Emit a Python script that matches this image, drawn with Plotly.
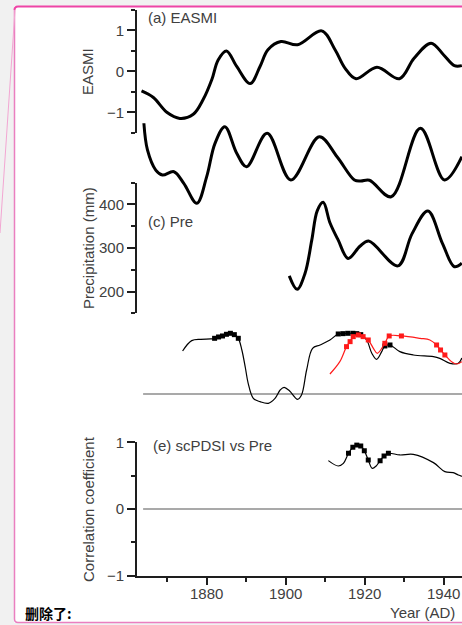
import plotly.graph_objects as go

W, H = 462, 625

# ---------------- data ----------------
# (a) EASMI
a_years = [1863.5, 1866.5, 1869.9, 1873.2, 1876.6, 1879.1, 1881.3, 1882.9, 1885.0, 1887.6,
           1891.0, 1893.5, 1895.5, 1898.8, 1903.0, 1909.1, 1912.5, 1915.0, 1917.8, 1923.1,
           1928.8, 1932.5, 1936.8, 1940.0, 1942.7, 1944.6]
a_vals = [-0.48, -0.64, -1.0, -1.15, -1.05, -0.69, -0.2, 0.28, 0.5, 0.12,
          -0.3, 0.12, 0.53, 0.73, 0.65, 0.99, 0.53, 0.08, -0.18, 0.1,
          -0.18, 0.32, 0.69, 0.4, 0.14, 0.14]

# (b) second index (axis not visible in crop)
b_years = [1864.1, 1865.0, 1867.1, 1868.8, 1871.7, 1874.2, 1877.5, 1880.0, 1882.1, 1884.6,
           1887.6, 1890.1, 1895.3, 1901.3, 1908.5, 1913.0, 1917.4, 1919.0, 1921.2, 1926.7,
           1934.1, 1940.2, 1944.6]
b_vals = [2.65, 0.87, -0.47, -0.8, -0.58, -1.36, -2.69, -0.91, 1.31, 2.42,
          0.65, -0.25, 1.98, -1.13, 1.75, 0.42, -1.13, -1.2, -1.15, -2.25,
          2.31, -1.13, 0.42]

# (c) precipitation (mm)
c_years = [1900.9, 1902.9, 1904.9, 1906.6, 1908.0, 1909.5, 1911.2, 1913.3, 1915.8, 1918.8,
           1921.0, 1928.4, 1932.0, 1936.0, 1939.7, 1942.7, 1944.6]
c_vals = [236, 205, 242, 318, 386, 405, 358, 318, 276, 304,
          316, 259, 333, 385, 310, 257, 265]

# (d) running correlations (black and red), sig = significant points (squares)
d_black_years = [1873.9, 1876.2, 1878.5, 1881.0, 1882.0, 1883.0, 1884.0, 1885.0, 1886.0, 1887.0,
                 1888.0, 1888.9, 1889.8, 1890.5, 1891.8, 1893.5, 1895.6, 1897.3, 1898.6, 1899.6,
                 1901.0, 1903.0, 1904.0, 1905.3, 1906.8, 1908.7, 1911.2, 1913.3, 1914.5, 1915.7,
                 1917.0, 1918.0, 1919.0, 1920.5, 1921.8, 1923.0, 1924.3, 1925.1, 1926.4, 1928.9,
                 1932.3, 1937.4, 1939.0, 1941.6, 1943.7, 1944.6]
d_black_vals = [0.645, 0.80, 0.82, 0.825, 0.835, 0.855, 0.87, 0.895, 0.91, 0.89,
                0.835, 0.66, 0.39, 0.16, -0.065, -0.115, -0.14, -0.065, 0.06, 0.10,
                0.045, -0.08, -0.015, 0.36, 0.685, 0.735, 0.81, 0.90, 0.905, 0.91,
                0.91, 0.905, 0.89, 0.81, 0.61, 0.52, 0.635, 0.72, 0.735, 0.635,
                0.585, 0.56, 0.535, 0.46, 0.46, 0.54]
d_black_sig = [0, 0, 0, 0, 1, 1, 1, 1, 1, 1,
               1, 0, 0, 0, 0, 0, 0, 0, 0, 0,
               0, 0, 0, 0, 0, 0, 0, 1, 1, 1,
               1, 1, 1, 0, 0, 0, 0, 1, 1, 0,
               0, 0, 0, 0, 0, 0]

d_red_years = [1911.2, 1913.7, 1915.4, 1916.3, 1917.1, 1918.4, 1919.6, 1920.9, 1922.2, 1923.2,
               1925.1, 1926.2, 1929.3, 1934.0, 1936.5, 1938.2, 1939.2, 1940.3, 1942.0, 1943.3,
               1944.6]
d_red_vals = [0.30, 0.485, 0.71, 0.785, 0.86, 0.885, 0.86, 0.81, 0.685, 0.61,
              0.76, 0.87, 0.87, 0.835, 0.81, 0.735, 0.66, 0.585, 0.485, 0.45,
              0.485]
d_red_sig = [0, 0, 1, 1, 1, 1, 1, 1, 0, 0,
             1, 1, 1, 0, 0, 1, 1, 1, 0, 0,
             0]

# (e) scPDSI vs Pre correlation
e_years = [1910.8, 1913.3, 1914.6, 1915.9, 1917.0, 1918.0, 1919.0, 1919.9, 1920.9, 1921.9,
           1922.9, 1923.9, 1924.9, 1926.0, 1928.9, 1932.3, 1937.4, 1940.3, 1942.4, 1943.7,
           1944.6]
e_vals = [0.725, 0.645, 0.685, 0.835, 0.925, 0.96, 0.945, 0.875, 0.735, 0.61,
          0.645, 0.725, 0.795, 0.835, 0.81, 0.82, 0.695, 0.56, 0.545, 0.51,
          0.49]
e_sig = [0, 0, 0, 1, 1, 1, 1, 1, 1, 0,
         0, 1, 1, 1, 0, 0, 0, 0, 0, 0,
         0]

zero_line_years = [1863.9, 1946.0]

# ---------------- helpers ----------------
def py(p):
    return 1 - p / H

def px(p):
    return p / W

FONT = "Liberation Sans, Arial, sans-serif"
TXT = "#404040"
AX = "#1e1e1e"

fig = go.Figure()

thick = dict(color="black", width=3, shape="spline", smoothing=1.0)
thin = dict(color="black", width=1.2, shape="spline", smoothing=1.0)

fig.add_trace(go.Scatter(x=a_years, y=a_vals, mode="lines", line=thick, xaxis="x", yaxis="y"))
fig.add_trace(go.Scatter(x=b_years, y=b_vals, mode="lines", line=thick, xaxis="x", yaxis="y2"))
fig.add_trace(go.Scatter(x=c_years, y=c_vals, mode="lines", line=thick, xaxis="x", yaxis="y3"))

# zero lines
fig.add_trace(go.Scatter(x=zero_line_years, y=[0, 0], mode="lines",
                         line=dict(color="#8c8c8c", width=1.5), xaxis="x", yaxis="y4"))
fig.add_trace(go.Scatter(x=zero_line_years, y=[0, 0], mode="lines",
                         line=dict(color="#8c8c8c", width=1.5), xaxis="x", yaxis="y5"))

def sig_trace(xs, ys, sig, color, axis):
    return go.Scatter(
        x=[x for x, s in zip(xs, sig) if s], y=[y for y, s in zip(ys, sig) if s],
        mode="markers", marker=dict(symbol="square", size=5, color=color, line=dict(width=0)),
        xaxis="x", yaxis=axis)

fig.add_trace(go.Scatter(x=d_black_years, y=d_black_vals, mode="lines", line=thin, xaxis="x", yaxis="y4"))
fig.add_trace(sig_trace(d_black_years, d_black_vals, d_black_sig, "black", "y4"))
fig.add_trace(go.Scatter(x=d_red_years, y=d_red_vals, mode="lines",
                         line=dict(color="#ff1a1a", width=1.2, shape="spline", smoothing=1.0),
                         xaxis="x", yaxis="y4"))
fig.add_trace(sig_trace(d_red_years, d_red_vals, d_red_sig, "#ff1a1a", "y4"))

fig.add_trace(go.Scatter(x=e_years, y=e_vals, mode="lines", line=thin, xaxis="x", yaxis="y5"))
fig.add_trace(sig_trace(e_years, e_vals, e_sig, "black", "y5"))

# ---------------- axes ----------------
x_left_px, x_1880_px, ppy = 137, 206.7, 3.95
x0 = 1880 - (x_1880_px - x_left_px) / ppy
x1 = 1880 + (W - x_1880_px) / ppy

tickfont = dict(family=FONT, size=15, color=TXT)

def yvis(dom_top, dom_bot, rng, dtick, mdtick, tick0=0):
    return dict(domain=[py(dom_bot), py(dom_top)], range=rng, anchor="x",
                showline=True, linecolor=AX, linewidth=2, mirror=False, automargin=False,
                ticks="outside", ticklen=8, tickwidth=1.5, tickcolor=AX,
                dtick=dtick, tick0=tick0, tickfont=tickfont, showgrid=False, zeroline=False,
                minor=dict(ticks="outside", ticklen=4, tickwidth=1.5, tickcolor=AX,
                           dtick=mdtick, tick0=tick0, showgrid=False),
                fixedrange=True)

def yhid(dom_top, dom_bot, rng):
    return dict(domain=[py(dom_bot), py(dom_top)], range=rng, anchor="x", visible=False,
                automargin=False, showgrid=False, zeroline=False, fixedrange=True)

# correlation scale: 66.7 px per unit, zero of (d) at 394 px
d_top, d_bot, d_zero, cps = 320, 410, 394, 66.7

fig.update_layout(
    template="none",
    width=W, height=H, autosize=False,
    margin=dict(l=0, r=0, t=0, b=0, pad=0, autoexpand=False),
    paper_bgcolor="#f1f1f1", plot_bgcolor="rgba(0,0,0,0)",
    showlegend=False,
    font=dict(family=FONT, color=TXT),
    xaxis=dict(domain=[px(x_left_px), 1], range=[x0, x1], anchor="y5", automargin=False,
               showline=True, linecolor=AX, linewidth=2,
               ticks="outside", ticklen=7, tickwidth=1.5, tickcolor=AX, ticklabelstandoff=-4,
               dtick=20, tick0=1880, tickfont=tickfont, showgrid=False, zeroline=False,
               minor=dict(ticks="outside", ticklen=4, tickwidth=1.5, tickcolor=AX, dtick=10,
                          tick0=1870, showgrid=False),
               fixedrange=True),
    yaxis=yvis(10, 132.7, [-1.5, 1.5], 1, 0.5),
    yaxis2=yhid(118, 208, [-3, 3]),
    yaxis3=yvis(182.7, 313.3, [150, 450], 100, 50),
    yaxis4=yhid(d_top, d_bot, [-(d_bot - d_zero) / cps, (d_zero - d_top) / cps]),
    yaxis5=yvis(442.3, 575.7, [-1, 1], 1, 0.5),
)

# ---------------- card background & borders ----------------
shapes = [
    dict(type="rect", xref="paper", yref="paper", x0=px(14), x1=px(470), y0=py(623), y1=py(6),
         fillcolor="white", line=dict(width=0), layer="below"),
    dict(type="line", xref="paper", yref="paper", x0=px(18), x1=px(470), y0=py(6.5), y1=py(6.5),
         line=dict(color="#ee44a6", width=2), layer="above"),
    dict(type="line", xref="paper", yref="paper", x0=px(14.5), x1=px(14.5), y0=py(10), y1=py(619),
         line=dict(color="#ea7fc0", width=1.5), layer="above"),
    dict(type="line", xref="paper", yref="paper", x0=px(18), x1=px(470), y0=py(622.5), y1=py(622.5),
         line=dict(color="#ea7fc0", width=1.5), layer="above"),
    dict(type="path", xref="paper", yref="paper",
         path=f"M {px(14.5)},{py(10)} Q {px(14.5)},{py(6.5)} {px(18)},{py(6.5)}",
         line=dict(color="#ee44a6", width=2), layer="above"),
    dict(type="path", xref="paper", yref="paper",
         path=f"M {px(14.5)},{py(619)} Q {px(14.5)},{py(622.5)} {px(18)},{py(622.5)}",
         line=dict(color="#ea7fc0", width=1.5), layer="above"),
    dict(type="line", xref="paper", yref="paper", x0=px(15), x1=px(0), y0=py(10), y1=py(233),
         line=dict(color="#f2a6d2", width=1), layer="above"),
]
fig.update_layout(shapes=shapes)

# ---------------- text ----------------
def ann(text, x, y, xanchor="left", size=15, angle=0, color=TXT, family=FONT):
    fig.add_annotation(text=text, x=px(x), y=py(y), xref="paper", yref="paper",
                       xanchor=xanchor, yanchor="middle", showarrow=False, textangle=angle,
                       font=dict(family=family, size=size, color=color))

ann("(a) EASMI", 146, 17)
ann("(c) Pre", 146, 222)
ann("(e) scPDSI vs Pre", 151, 445)
ann("EASMI", 88, 72, xanchor="center", angle=-90)
ann("Precipitation (mm)", 88, 248, xanchor="center", angle=-90)
ann("Correlation coefficient", 88, 509, xanchor="center", angle=-90)
ann("Year (AD)", 422, 612, xanchor="center")
ann("<b>删除了:</b>", 23, 613, size=14, color="black", family="Noto Sans CJK SC")

fig.write_html("out.html", config={"displayModeBar": False},
               post_script="document.body.style.margin='0';document.body.style.overflow='hidden';")
